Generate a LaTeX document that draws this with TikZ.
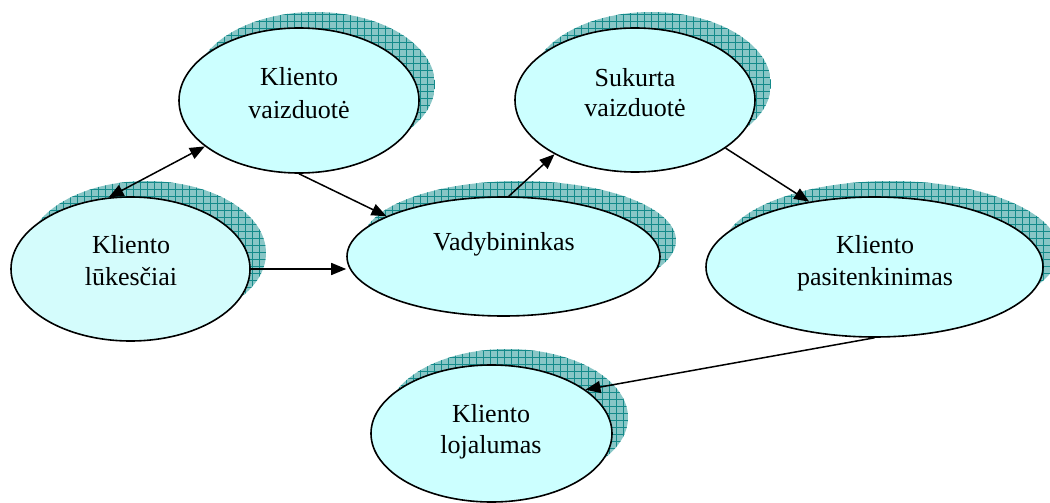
\documentclass[tikz,border=0pt]{standalone}
\usepackage{fontspec}
\setmainfont{Liberation Serif}
\usetikzlibrary{shapes.geometric,arrows.meta}

\definecolor{bubblefill}{RGB}{204,255,255}
\definecolor{bubblepale}{RGB}{212,252,252}
\definecolor{shadowbase}{RGB}{136,198,198}
\definecolor{shadowgrid}{RGB}{20,138,138}

\tikzset{
  bubble/.style={ellipse, draw=black, line width=1.6pt, fill=bubblefill, inner sep=0pt},
  lbl/.style={anchor=base, inner sep=0pt, font=\fontsize{26}{32}\selectfont},
  link/.style={line width=1.5pt, -{Triangle[length=15pt,width=12pt]}},
  twolink/.style={line width=1.5pt, {Triangle[length=15pt,width=12pt]}-{Triangle[length=15pt,width=12pt]}},
}

% hatched drop shadow behind a bubble: centre x, centre y, x radius, y radius
\newcommand\bubbleshadow[4]{%
  \begin{scope}
    \clip (#1+16,#2-16) ellipse [x radius=#3pt, y radius=#4pt];
    \fill[shadowbase] (#1+16-#3,#2-16-#4) rectangle (#1+16+#3,#2-16+#4);
    \draw[shadowgrid, line width=0.45pt, step=7pt] (#1+16-#3,#2-16-#4) grid (#1+16+#3,#2-16+#4);
  \end{scope}}

\begin{document}
\begin{tikzpicture}[x=1pt, y=-1pt]
  \useasboundingbox (0,0) rectangle (1050,503);

  % shadows
  \bubbleshadow{299}{100.5}{120}{72.5}
  \bubbleshadow{130.5}{269}{119.5}{72}
  \bubbleshadow{503.5}{256.5}{156.5}{59.5}
  \bubbleshadow{635}{100}{120}{72}
  \bubbleshadow{874.5}{267}{168.5}{70}
  \bubbleshadow{491.5}{433.5}{120.5}{68.5}

  % bubbles
  \node[bubble, minimum width=240pt, minimum height=145pt] (kv) at (299,100.5) {};
  \node[bubble, fill=bubblepale, minimum width=239pt, minimum height=144pt] (kl) at (130.5,269) {};
  \node[bubble, minimum width=313pt, minimum height=119pt] (vad) at (503.5,256.5) {};
  \node[bubble, minimum width=240pt, minimum height=144pt] (suk) at (635,100) {};
  \node[bubble, minimum width=337pt, minimum height=140pt] (pas) at (874.5,267) {};
  \node[bubble, minimum width=241pt, minimum height=137pt] (loj) at (491.5,433.5) {};

  % labels
  \node[lbl] (kv-a) at (299,85) {Kliento};
  \node[lbl] (kv-b) at (299,118) {vaizduotė};
  \node[lbl] (kl-a) at (131,253) {Kliento};
  \node[lbl] (kl-b) at (131,285) {lūkesčiai};
  \node[lbl] (vad-a) at (504,250) {Vadybininkas};
  \node[lbl] (suk-a) at (635,86) {Sukurta};
  \node[lbl] (suk-b) at (635,117) {vaizduotė};
  \node[lbl] (pas-a) at (875,253) {Kliento};
  \node[lbl] (pas-b) at (875,285) {pasitenkinimas};
  \node[lbl] (loj-a) at (491,422) {Kliento};
  \node[lbl] (loj-b) at (491,453) {lojalumas};

  % connectors
  \draw[twolink] (kl.107) -- (kv.206);
  \draw[link] (kv.south) -- (vad.161);
  \draw[link] (kl.east) -- (kl.east -| vad.west);
  \draw[link] (vad.85) -- (suk.214);
  \draw[link] (suk.-28) -- (pas.135);
  \draw[link] (pas.south) -- (loj.25);
\end{tikzpicture}
\end{document}
